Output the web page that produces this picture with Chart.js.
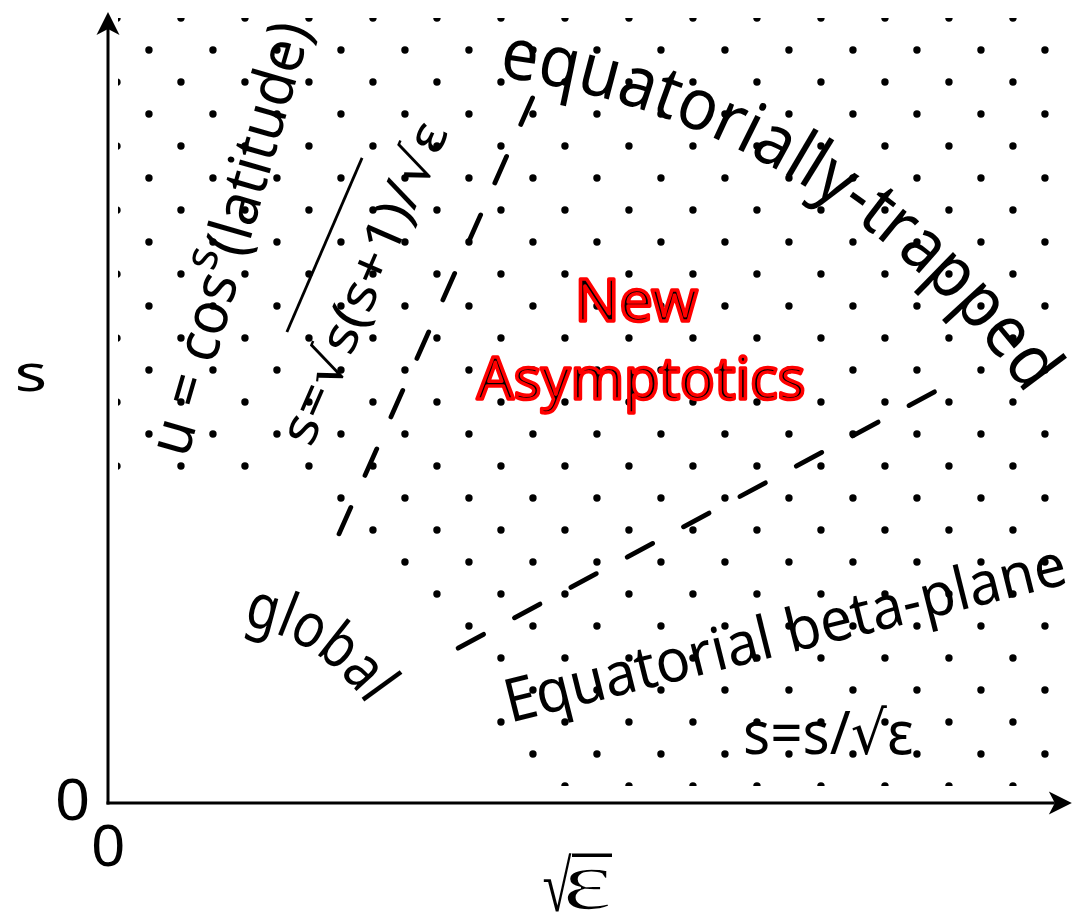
<!DOCTYPE html>
<html>
<head>
<meta charset="utf-8">
<script src="https://cdn.jsdelivr.net/npm/chart.js@4/dist/chart.umd.min.js"></script>
<style>
html, body { margin: 0; padding: 0; background: #fff; }
#wrap { position: relative; width: 1075px; height: 914px; }
</style>
</head>
<body>
<div id="wrap"><canvas id="regimes"></canvas></div>
<script>
// dot pattern, one row per s level (x = sqrt(eps), y = s)
var dotRowS = [24.53, 23.53, 22.53, 21.53, 20.53, 19.53, 18.53, 17.53, 16.53, 15.53, 14.53, 13.53, 12.53,
               11.53, 10.53, 9.53, 8.53, 7.53, 6.53, 5.53, 4.53, 3.53, 2.53, 1.53, 0.53];
var dotRowFirst = [0.28, 1.28, 0.28, 1.28, 0.28, 1.28, 0.28, 1.28, 0.28, 1.28, 0.28, 1.28, 0.28,
                   1.28, 0.28, 7.28, 8.28, 9.28, 10.28, 11.28, 12.28, 13.28, 12.28, 13.28, 14.28];
var dotRowLast = [28.28, 29.28, 28.28, 29.28, 28.28, 29.28, 28.28, 29.28, 28.28, 29.28, 28.28, 29.28, 28.28,
                  29.28, 28.28, 29.28, 28.28, 29.28, 28.28, 29.28, 28.28, 29.28, 28.28, 29.28, 28.28];
var dotStep = 2;

// dashed regime boundaries
var boundAX = [7.22, 13.31];
var boundAS = [8.41, 22.13];
var boundBX = [10.94, 25.94];
var boundBS = [4.84, 12.91];

var dots = [];
dotRowS.forEach(function (s, k) {
    for (var x = dotRowFirst[k]; x <= dotRowLast[k] + 0.01; x += dotStep) {
        dots.push({ x: Math.round(x * 100) / 100, y: s });
    }
});
var boundA = boundAX.map(function (x, i) { return { x: x, y: boundAS[i] }; });
var boundB = boundBX.map(function (x, i) { return { x: x, y: boundBS[i] }; });

var SANS = '"Noto Sans", "DejaVu Sans", sans-serif';
var SERIF = '"Liberation Serif", "DejaVu Serif", serif';

// text placed in a box (data coords)
var boxLabels = [
    { t: 's', font: '54px ' + SANS, x0: -2.84, x1: -1.97, y0: 13.72, y1: 12.84 },
    { t: '0', font: '60px ' + SANS, x0: -1.59, x1: -0.63, y0: 0.75, y1: -0.56 },
    { t: '0', font: '60px ' + SANS, x0: -0.47, x1: 0.47, y0: -0.69, y1: -2.0 },
    { t: '\u221A', font: '64px ' + SERIF, x0: 13.6, x1: 14.5, y0: -1.56, y1: -3.41 },
    { t: '\u03B5', font: '92px ' + SERIF, x0: 14.31, x1: 15.66, y0: -2.06, y1: -3.34, thin: true },
    { t: 's=s/\u221A\u03B5', font: '54px ' + SANS, x0: 19.91, x1: 25.13, y0: 3.06, y1: 1.5 },
    { t: 'New', font: '57px ' + SANS, x0: 14.75, x1: 18.44, y0: 16.38, y1: 15.03, red: true },
    { t: 'Asymptotics', font: '57px ' + SANS, x0: 11.53, x1: 21.72, y0: 13.97, y1: 12.19, red: true }
];
// straight rotated labels: baseline centre, angle (deg), advance length
var rotLabels = [
    { parts: [{ t: 'u = cos', size: 60, rise: 0 }, { t: 's', size: 46, rise: 26 }, { t: '(latitude)', size: 60, rise: 0 }],
      x: 4.41, y: 17.47, angle: -73.9, len: 14.0 },
    { parts: [{ t: 's=\u221As(s+1)/\u221A\u03B5', size: 52, rise: 0 }], x: 8.5, y: 16.03, angle: -66.5, len: 10.81 },
    { parts: [{ t: 'Equatorial beta-plane', size: 60, rise: 0 }], x: 21.31, y: 4.69, angle: -14, len: 18.03 }
];
var overbar = [{ x: 5.59, y: 14.72 }, { x: 7.94, y: 20.16 }];
// curved labels: circle centre, radius, start/end angle
var arcLabels = [
    { t: 'equatorially-trapped', size: 72, cx: 9.06, cy: -1.16, r: 24.06, a0: -82.5, a1: -35.3 },
    { t: 'global', size: 62, cx: 3.19, cy: -0.25, r: 5.91, a0: -80, a1: -34 }
];

var labelPlugin = {
    id: 'regimeLabels',
    afterDatasetsDraw: function (chart) {
        var ctx = chart.ctx, xs = chart.scales.x, ys = chart.scales.y;
        var P = function (x, y) { return { x: xs.getPixelForValue(x), y: ys.getPixelForValue(y) }; };
        var unit = xs.getPixelForValue(1) - xs.getPixelForValue(0);
        ctx.save();
        ctx.fillStyle = '#000';
        ctx.strokeStyle = '#000';

        // axes with arrow heads
        var arrow = function (from, to) {
            var dx = to.x - from.x, dy = to.y - from.y, L = Math.hypot(dx, dy);
            var ux = dx / L, uy = dy / L, len = 23, half = 11.5, notch = 6;
            ctx.beginPath();
            ctx.lineWidth = 3;
            ctx.moveTo(from.x - ux * 1.5, from.y - uy * 1.5);
            ctx.lineTo(to.x - ux * (len - notch), to.y - uy * (len - notch));
            ctx.stroke();
            ctx.beginPath();
            ctx.moveTo(to.x, to.y);
            ctx.lineTo(to.x - ux * len - uy * half, to.y - uy * len + ux * half);
            ctx.lineTo(to.x - ux * (len - notch), to.y - uy * (len - notch));
            ctx.lineTo(to.x - ux * len + uy * half, to.y - uy * len - ux * half);
            ctx.closePath();
            ctx.fill();
        };
        arrow(P(0, 0), P(30.12, 0));
        arrow(P(0, 0), P(0, 24.72));

        ctx.textBaseline = 'alphabetic';
        boxLabels.forEach(function (b) {
            var p0 = P(b.x0, b.y0), p1 = P(b.x1, b.y1);
            ctx.save();
            ctx.font = b.font;
            ctx.textAlign = 'left';
            var m = ctx.measureText(b.t);
            var w = m.actualBoundingBoxLeft + m.actualBoundingBoxRight;
            var h = m.actualBoundingBoxAscent + m.actualBoundingBoxDescent;
            ctx.translate(p0.x, p0.y);
            ctx.scale((p1.x - p0.x) / w, (p1.y - p0.y) / h);
            ctx.fillText(b.t, m.actualBoundingBoxLeft, m.actualBoundingBoxAscent);
            if (b.red) {
                ctx.strokeStyle = '#ff0000';
                ctx.lineWidth = 3.5;
                ctx.lineJoin = 'round';
                ctx.strokeText(b.t, m.actualBoundingBoxLeft, m.actualBoundingBoxAscent);
            }
            if (b.thin) {
                ctx.strokeStyle = '#fff';
                ctx.lineWidth = 1.8;
                ctx.strokeText(b.t, m.actualBoundingBoxLeft, m.actualBoundingBoxAscent);
            }
            ctx.restore();
        });
        // radical bar of the axis label
        var bar0 = P(14.5, -1.63), bar1 = P(15.75, -1.63);
        ctx.beginPath();
        ctx.lineWidth = 3.5;
        ctx.moveTo(bar0.x, bar0.y);
        ctx.lineTo(bar1.x, bar1.y);
        ctx.stroke();

        rotLabels.forEach(function (r) {
            var c = P(r.x, r.y);
            var total = 0;
            r.parts.forEach(function (p) {
                ctx.font = p.size + 'px ' + SANS;
                p.w = ctx.measureText(p.t).width;
                total += p.w;
            });
            var sx = r.len * unit / total;
            ctx.save();
            ctx.translate(c.x, c.y);
            ctx.rotate(r.angle * Math.PI / 180);
            ctx.scale(sx, 1);
            ctx.textAlign = 'left';
            var x = -total / 2;
            r.parts.forEach(function (p) {
                ctx.font = p.size + 'px ' + SANS;
                ctx.fillText(p.t, x, -p.rise);
                x += p.w;
            });
            ctx.restore();
        });
        var o0 = P(overbar[0].x, overbar[0].y), o1 = P(overbar[1].x, overbar[1].y);
        ctx.beginPath();
        ctx.lineWidth = 2.8;
        ctx.moveTo(o0.x, o0.y);
        ctx.lineTo(o1.x, o1.y);
        ctx.stroke();

        arcLabels.forEach(function (a) {
            var c = P(a.cx, a.cy), R = a.r * unit;
            var phi0 = a.a0 * Math.PI / 180, phi1 = a.a1 * Math.PI / 180;
            ctx.font = a.size + 'px ' + SANS;
            ctx.textAlign = 'center';
            var total = ctx.measureText(a.t).width;
            var s = R * (phi1 - phi0) / total;
            for (var i = 0; i < a.t.length; i++) {
                var ch = a.t[i];
                var w = ctx.measureText(ch).width;
                var mid = (ctx.measureText(a.t.slice(0, i)).width + w / 2) * s;
                var phi = phi0 + mid / R;
                ctx.save();
                ctx.translate(c.x + R * Math.cos(phi), c.y + R * Math.sin(phi));
                ctx.rotate(phi + Math.PI / 2);
                ctx.scale(s, 1);
                ctx.fillText(ch, 0, 0);
                ctx.restore();
            }
        });
        ctx.restore();
    }
};

new Chart(document.getElementById('regimes'), {
    type: 'scatter',
    data: {
        datasets: [
            {
                label: 'dots',
                data: dots,
                pointRadius: 3.7,
                pointBackgroundColor: '#000',
                pointBorderColor: '#000',
                pointBorderWidth: 0,
                clip: { left: -10, top: -7, right: 0, bottom: -17 }
            },
            {
                type: 'line',
                label: 'boundary A',
                data: boundA,
                borderColor: '#000',
                borderWidth: 4.8,
                borderDash: [29, 35],
                borderCapStyle: 'round',
                pointRadius: 0,
                fill: false
            },
            {
                type: 'line',
                label: 'boundary B',
                data: boundB,
                borderColor: '#000',
                borderWidth: 4.8,
                borderDash: [29, 35],
                borderCapStyle: 'round',
                pointRadius: 0,
                fill: false
            }
        ]
    },
    options: {
        responsive: true,
        maintainAspectRatio: false,
        animation: false,
        layout: { padding: { left: 108, top: 11, right: 7, bottom: 111 } },
        scales: {
            x: { type: 'linear', min: 0, max: 30, display: false },
            y: { type: 'linear', min: 0, max: 24.75, display: false }
        },
        plugins: {
            legend: { display: false },
            tooltip: { enabled: false }
        }
    },
    plugins: [labelPlugin]
});
</script>
</body>
</html>
